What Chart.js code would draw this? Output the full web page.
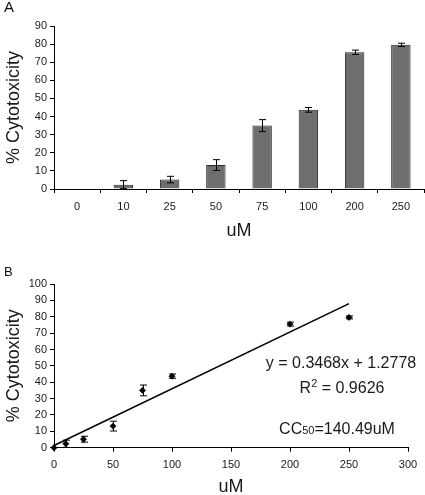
<!DOCTYPE html>
<html><head><meta charset="utf-8">
<script src="https://cdn.jsdelivr.net/npm/chart.js@4.4.0/dist/chart.umd.min.js"></script>
<style>
html,body{margin:0;padding:0;background:#fff;width:425px;height:495px;overflow:hidden;}
.wrap{position:absolute;left:0;width:425px;}
#wa{top:0;height:245px;}
#wb{top:245px;height:250px;}
.lbl{position:absolute;left:4px;font-family:'Liberation Sans',Arial,sans-serif;color:#111;line-height:1;}
</style></head><body>
<div class="wrap" id="wa"><canvas id="ca" width="425" height="245"></canvas></div>
<div class="wrap" id="wb"><canvas id="cb" width="425" height="250"></canvas></div>
<div class="lbl" style="top:-1px;font-size:15px;">A</div>
<div class="lbl" style="top:265px;font-size:13px;">B</div>
<script>
// ---- data ----
const categories = ['0','10','25','50','75','100','200','250'];
const concentrations = [0,10,25,50,75,100,200,250];
const cytotoxicity = [0,2.4,5.2,13.2,35.0,43.7,75.5,79.6];
const errors = [0,2.2,1.8,3.0,3.3,1.3,1.2,0.9];
const trendX = [0,250];
const trendY = [1.3,88.0];
const equationText = 'y = 0.3468x + 1.2778';
const r2Value = '0.9626';
const cc50Value = '140.49uM';

const FONT = "'Liberation Sans', Arial, sans-serif";
const TXT = '#1a1a1a';

const errPlugin = {
  id: 'errbars',
  afterDatasetsDraw(chart, args, opts) {
    const meta = chart.getDatasetMeta(opts.dataset);
    const ys = chart.scales.y;
    const ctx = chart.ctx;
    ctx.save();
    ctx.strokeStyle = '#000';
    ctx.lineWidth = 1;
    meta.data.forEach((el, i) => {
      const e = errors[i];
      if (!e) return;
      const v = cytotoxicity[i];
      const x = Math.round(el.x) + 0.5;
      const y1 = ys.getPixelForValue(v + e), y2 = ys.getPixelForValue(v - e);
      const w = 3.5;
      ctx.beginPath();
      ctx.moveTo(x, y1); ctx.lineTo(x, y2);
      ctx.moveTo(x - w, y1); ctx.lineTo(x + w, y1);
      ctx.moveTo(x - w, y2); ctx.lineTo(x + w, y2);
      ctx.stroke();
    });
    ctx.restore();
  }
};

function axisGrid() {
  return { drawOnChartArea: false, drawTicks: true, tickLength: 4, color: '#000', lineWidth: 1 };
}
function tickFont() { return { family: FONT, size: 11 }; }

// ---- Chart A ----
new Chart(document.getElementById('ca'), {
  type: 'bar',
  data: { labels: categories, datasets: [{
    data: cytotoxicity, backgroundColor: '#6e6e6e', borderColor: '#2a2a2a', borderWidth: 1,
    barPercentage: 0.42, categoryPercentage: 1
  }]},
  options: {
    responsive: false, animation: false, devicePixelRatio: 1,
    layout: { padding: { left: 0, right: 1, top: 26, bottom: 0 } },
    plugins: { legend: { display: false }, tooltip: { enabled: false }, errbars: { dataset: 0 } },
    scales: {
      x: {
        offset: true,
        grid: Object.assign(axisGrid(), { offset: true }),
        border: { color: '#000', width: 1 },
        ticks: { padding: 7.6, color: TXT, font: tickFont() },
        title: { display: true, text: 'uM', color: TXT, font: { family: FONT, size: 18, lineHeight: 1 }, padding: { top: 0, bottom: 4.5 } },
        afterFit(s) { s.height = 56; }
      },
      y: {
        min: 0, max: 90,
        grid: axisGrid(),
        border: { color: '#000', width: 1 },
        ticks: { stepSize: 10, padding: 3, color: TXT, font: tickFont() },
        title: { display: true, text: '% Cytotoxicity', color: TXT, font: { family: FONT, size: 18, lineHeight: 1 }, padding: { top: 5, bottom: 0 } },
        afterFit(s) { s.width = 54; }
      }
    }
  },
  plugins: [errPlugin]
});

// ---- Chart B ----
const annPlugin = {
  id: 'ann',
  afterDraw(chart) {
    const ctx = chart.ctx;
    ctx.save();
    ctx.fillStyle = TXT;
    ctx.textBaseline = 'alphabetic';
    ctx.textAlign = 'left';
    const big = '16px ' + FONT, small = '11px ' + FONT;
    function drawPieces(pieces, cx, baseY) {
      let total = 0;
      pieces.forEach(p => { ctx.font = p.f; p.w = ctx.measureText(p.t).width; total += p.w; });
      let x = cx - total / 2;
      pieces.forEach(p => { ctx.font = p.f; ctx.fillText(p.t, x, baseY + (p.dy || 0)); x += p.w; });
    }
    drawPieces([{ t: equationText, f: big }], 341, 123.2);
    drawPieces([{ t: 'R', f: big }, { t: '2', f: small, dy: -6 }, { t: ' = ' + r2Value, f: big }], 342, 148.3);
    drawPieces([{ t: 'CC', f: big }, { t: '50', f: small, dy: 0 }, { t: '=' + cc50Value, f: big }], 337, 188.8);
    ctx.restore();
  }
};

new Chart(document.getElementById('cb'), {
  type: 'scatter',
  data: { datasets: [
    { type: 'line', data: trendX.map((x, i) => ({ x: x, y: trendY[i] })), borderColor: '#000', borderWidth: 1.6, pointRadius: 0, fill: false, tension: 0, clip: false },
    { data: concentrations.map((x, i) => ({ x: x, y: cytotoxicity[i] })), pointStyle: 'rectRot', pointRadius: 3.2, backgroundColor: '#000', borderColor: '#000', borderWidth: 0.5, clip: false }
  ]},
  options: {
    responsive: false, animation: false, devicePixelRatio: 1,
    layout: { padding: { left: 0, right: 17, top: 39, bottom: 0 } },
    plugins: { legend: { display: false }, tooltip: { enabled: false }, errbars: { dataset: 1 } },
    scales: {
      x: {
        type: 'linear', min: 0, max: 300,
        grid: axisGrid(),
        border: { color: '#000', width: 1 },
        ticks: { stepSize: 50, padding: 6.2, color: TXT, font: tickFont() },
        title: { display: true, text: 'uM', color: TXT, font: { family: FONT, size: 18, lineHeight: 0.8 }, padding: { top: 0, bottom: 0.3 } },
        afterFit(s) { s.height = 47.3; }
      },
      y: {
        min: 0, max: 100,
        grid: axisGrid(),
        border: { color: '#000', width: 1 },
        ticks: { stepSize: 10, padding: 3, color: TXT, font: tickFont() },
        title: { display: true, text: '% Cytotoxicity', color: TXT, font: { family: FONT, size: 18, lineHeight: 1 }, padding: { top: 5, bottom: 0 } },
        afterFit(s) { s.width = 54; }
      }
    }
  },
  plugins: [errPlugin, annPlugin]
});
</script>
</body></html>
